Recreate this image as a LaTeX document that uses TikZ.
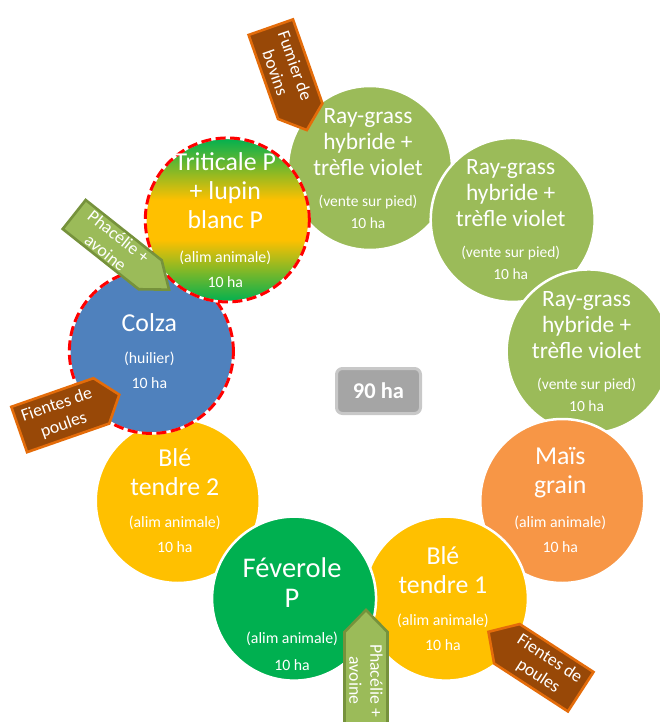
\documentclass[tikz,border=0pt]{standalone}
\usepackage{fontspec}
\setmainfont{Carlito}
\definecolor{rg}{HTML}{9BBB59}
\definecolor{mais}{HTML}{F79646}
\definecolor{ble}{HTML}{FFC000}
\definecolor{fev}{HTML}{00B050}
\definecolor{colza}{HTML}{4F81BD}
\definecolor{brn}{HTML}{984807}
\definecolor{brnline}{HTML}{E46C0A}
\definecolor{grnline}{HTML}{76923C}
\definecolor{boxfill}{HTML}{A5A5A5}
\definecolor{boxline}{HTML}{C8C8C8}
\pgfdeclareverticalshading{trit}{100bp}{color(0bp)=(fev); color(25bp)=(fev); color(44bp)=(ble); color(56bp)=(ble); color(75bp)=(fev); color(100bp)=(fev)}
\begin{document}
\begin{tikzpicture}[x=1pt,y=1pt,
  crop/.style={circle, minimum size=164pt, inner sep=0pt, draw=white, line width=2.5pt},
  reddash/.style={draw=red, line width=3pt, dash pattern=on 10pt off 4.5pt},
  maintxt/.style={text=white, align=center, inner sep=0pt, font=\fontsize{25.8}{29}\selectfont},
  raytxt/.style={text=white, align=center, inner sep=0pt, font=\fontsize{23.4}{26}\selectfont},
  fevtxt/.style={text=white, align=center, inner sep=0pt, font=\fontsize{28.5}{30}\selectfont},
  subtxt/.style={text=white, align=center, inner sep=0pt, font=\fontsize{15.8}{25}\selectfont},
  raysub/.style={subtxt, font=\fontsize{15.5}{22}\selectfont},
  brownarrow/.style={fill=brn, draw=brnline, line width=2.6pt, line join=miter},
  greenarrow/.style={fill=rg, draw=grnline, line width=2.6pt, line join=miter},
  arrowtxt/.style={text=white, align=center, inner sep=0pt, font=\fontsize{17.7}{21}\selectfont},
  totalbox/.style={draw=boxline, fill=boxfill, rounded corners=6pt, line width=3pt,
    minimum width=84pt, minimum height=45pt, text=white, inner sep=0pt,
    font=\bfseries\fontsize{22.5}{27}\selectfont}]
\useasboundingbox (0,0) rectangle (660,-722);
\fill[white] (0,0) rectangle (660,-722);
\coordinate (O) at (370,-390);
% circles
\node[crop, fill=rg] (c1) at ([shift={(90:222)}]O) {};
\node[crop, fill=rg] (c2) at ([shift={(50:222)}]O) {};
\node[crop, fill=rg] (c3) at ([shift={(10:222)}]O) {};
\node[crop, fill=mais] (c4) at ([shift={(-30:222)}]O) {};
\node[crop, fill=ble] (c5) at ([shift={(-70:222)}]O) {};
\node[crop, fill=ble] (c7) at ([shift={(-150:222)}]O) {};
\node[crop, fill=fev] (c6) at ([shift={(-110:222)}]O) {};
\node[crop, fill=colza] (c8) at ([shift={(170:222)}]O) {};
\draw[reddash] (c8.center) circle (82);
\node[crop, shade, shading=trit] (c9) at ([shift={(130:222)}]O) {};
\draw[reddash] (c9.center) circle (82);
% texts
\node[raytxt] (t1) at ([shift={(-2,26)}]c1) {Ray-grass\\hybride +\\trèfle violet};
\node[raysub] (s1) at ([shift={(-2,-44)}]c1) {(vente sur pied)\\10 ha};
\node[raytxt] (t2) at ([shift={(-2,27)}]c2) {Ray-grass\\hybride +\\trèfle violet};
\node[raysub] (s2) at ([shift={(-2,-43)}]c2) {(vente sur pied)\\10 ha};
\node[raytxt] (t3) at ([shift={(-2,26.5)}]c3) {Ray-grass\\hybride +\\trèfle violet};
\node[raysub] (s3) at ([shift={(-2,-43.5)}]c3) {(vente sur pied)\\10 ha};
\node[maintxt] (t4) at ([shift={(-2,28.5)}]c4) {Maïs\\grain};
\node[subtxt] (s4) at ([shift={(-2,-33.5)}]c4) {(alim animale)\\10 ha};
\node[maintxt] (t5) at ([shift={(-3,28.6)}]c5) {Blé\\tendre 1};
\node[subtxt] (s5) at ([shift={(-3,-34)}]c5) {(alim animale)\\10 ha};
\node[fevtxt] (t6) at ([shift={(-2,15.6)}]c6) {Féverole\\P};
\node[subtxt, font=\fontsize{15.8}{27}\selectfont] (s6) at ([shift={(-2,-53)}]c6) {(alim animale)\\10 ha};
\node[maintxt] (t7) at ([shift={(-3,28.5)}]c7) {Blé\\tendre 2};
\node[subtxt] (s7) at ([shift={(-3,-33.5)}]c7) {(alim animale)\\10 ha};
\node[maintxt] (t8) at ([shift={(-2,28.5)}]c8) {Colza};
\node[subtxt] (s8) at ([shift={(-2,-19)}]c8) {(huilier)\\10 ha};
\node[maintxt] (t9) at ([shift={(-2,29)}]c9) {Triticale P\\+ lupin\\blanc P};
\node[subtxt] (s9) at ([shift={(-2,-49.5)}]c9) {(alim animale)\\10 ha};
% center
\node[totalbox] (total) at (378.5,-391) {90 ha};
% arrows
\begin{scope}[shift={(270.8,-27.2)}, rotate=-70.7]
  \draw[brownarrow] (0,-23.5) -- (89,-23.5) -- (109,0) -- (89,23.5) -- (0,23.5) -- cycle;
  \node[arrowtxt, rotate=-70.7] (a1) at (44.5,0) {Fumier de\\bovins};
\end{scope}
\begin{scope}[shift={(74.2,-214.5)}, rotate=-38.4]
  \draw[greenarrow] (0,-18.5) -- (97,-18.5) -- (121,0) -- (97,18.5) -- (0,18.5) -- cycle;
  \node[arrowtxt, rotate=-38.4] (a2) at (48.5,0) {Phacélie +\\avoine};
\end{scope}
\begin{scope}[shift={(19.2,-429.5)}, rotate=19.2]
  \draw[brownarrow] (0,-24) -- (87,-24) -- (106,0) -- (87,24) -- (0,24) -- cycle;
  \node[arrowtxt, rotate=19.2] (a3) at (43.5,0) {Fientes de\\poules};
\end{scope}
\begin{scope}[shift={(366,-729)}, rotate=90]
  \draw[greenarrow] (0,-21.5) -- (97,-21.5) -- (119,0) -- (97,21.5) -- (0,21.5) -- cycle;
  \node[arrowtxt, rotate=-90] (a4) at (48.5,0) {Phacélie +\\avoine};
\end{scope}
\begin{scope}[shift={(580.7,-691.7)}, rotate=147]
  \draw[brownarrow] (0,-23.5) -- (88,-23.5) -- (110,0) -- (88,23.5) -- (0,23.5) -- cycle;
  \node[arrowtxt, rotate=-33] (a5) at (44,0) {Fientes de\\poules};
\end{scope}
\end{tikzpicture}
\end{document}
